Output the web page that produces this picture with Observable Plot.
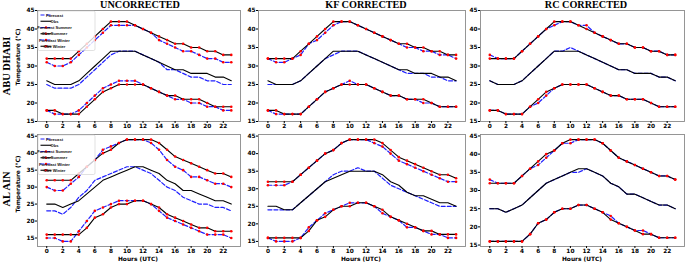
<!DOCTYPE html>
<html><head><meta charset="utf-8">
<script src="https://cdn.jsdelivr.net/npm/d3@7"></script>
<script src="https://cdn.jsdelivr.net/npm/@observablehq/plot@0.6"></script>
<style>
body{margin:0;background:#fff}
#chart{position:relative;width:685px;height:265px;overflow:hidden;background:#fff}
#chart svg{position:absolute}
</style>
</head><body><div id="chart"></div>
<script>
// ---------- data ----------
const hours = [0,1,2,3,4,5,6,7,8,9,10,11,12,13,14,15,16,17,18,19,20,21,22,23];
const xTicks = [0,2,4,6,8,10,12,14,16,18,20,22];
const yTicks = [15,20,25,30,35,40,45];
const columnTitles = ["UNCORRECTED","KF CORRECTED","RC CORRECTED"];
const stations = ["ABU DHABI","AL AIN"];
const seriesNames = ["Forecast","Obs","Forecast Summer","Obs Summer","Forecast Winter","Obs Winter"];

// ABU DHABI observations
const adObs       = [26,25,25,25,26,28,30,32,34,34,34,34,33,32,31,30,29,29,28,28,28,27,27,26];
const adObsSummer = [32,32,32,32,34,36,38,40,42,42,42,41,40,39,38,37,36,36,35,35,34,34,33,33];
const adObsWinter = [18,18,17,17,17,19,21,23,24,25,25,25,25,24,23,22,22,21,21,21,20,19,19,19];
// ABU DHABI forecasts
const adFcUnc       = [25,24,24,24,25,27,29,31,33,34,34,34,33,32,31,29,29,28,27,27,26,26,25,25];
const adFcSummerUnc = [31,30,30,31,33,35,37,39,41,41,41,41,40,39,37,36,35,34,34,33,32,32,31,31];
const adFcWinterUnc = [18,17,17,17,18,20,22,24,25,26,26,26,25,24,23,22,21,21,20,20,19,19,18,18];
const adFcKF        = [25,25,25,25,26,28,30,32,33,34,34,34,33,32,31,30,29,28,28,28,27,27,26,26];
const adFcSummerKF  = [32,31,31,32,33,36,37,39,41,42,42,41,40,39,38,37,36,35,35,34,34,33,33,32];
const adFcWinterKF  = [18,17,17,17,17,19,21,23,24,25,26,25,25,24,23,22,22,21,21,20,20,19,19,19];
const adFcRC        = [26,25,25,25,26,28,30,32,34,34,35,34,33,32,31,30,29,29,28,28,28,27,27,26];
const adFcSummerRC  = [33,32,32,32,34,36,38,40,41,42,42,41,41,39,38,37,36,36,35,35,34,34,33,33];
const adFcWinterRC  = [18,18,17,17,17,19,20,22,24,25,25,25,25,24,23,22,22,21,21,21,20,19,19,19];

// AL AIN observations
const aaObs       = [25,25,24,25,26,28,30,32,33,34,35,36,36,35,34,32,31,29,29,28,27,26,26,25];
const aaObsKF     = [25,25,24,24,26,28,30,32,33,34,35,35,35,35,34,32,31,29,28,28,27,26,26,25];
const aaObsSummer = [32,32,32,32,34,36,38,40,41,43,44,44,44,44,43,41,39,38,37,36,35,34,34,33];
const aaObsWinter = [16,16,16,16,16,18,21,22,24,25,25,26,26,25,24,22,21,20,19,18,18,17,17,17];
// AL AIN forecasts
const aaFcUnc       = [23,23,22,24,27,29,32,33,34,35,36,36,35,34,32,30,29,27,26,25,25,24,24,23];
const aaFcSummerUnc = [30,29,29,31,33,36,38,41,42,43,44,44,44,43,41,38,36,35,33,33,32,31,31,30];
const aaFcWinterUnc = [15,15,14,14,17,20,23,24,25,26,26,26,26,25,23,21,20,19,18,17,16,16,16,15];
const aaFcKF        = [24,24,24,24,26,28,30,32,34,35,35,36,35,35,33,31,30,29,28,27,26,25,25,25];
const aaFcSummerKF  = [31,31,31,32,34,36,38,40,41,43,44,44,44,43,42,40,38,37,36,35,34,33,32,32];
const aaFcWinterKF  = [16,15,15,15,16,19,21,23,24,25,26,26,26,25,23,22,21,19,19,18,17,17,16,16];
const aaFcRC        = [25,25,24,25,26,28,30,32,33,34,35,35,36,35,34,32,31,29,29,28,27,26,26,25];
const aaFcSummerRC  = [33,32,32,32,34,36,37,39,41,43,43,44,44,44,43,41,39,38,37,36,35,34,34,33];
const aaFcWinterRC  = [16,16,16,16,16,18,21,22,24,25,25,26,26,25,24,23,21,20,19,19,18,17,17,17];

// panel definitions (series order = seriesNames)
const panels = [
  {row:0, col:0, yDomain:[15,45], series:[adFcUnc, adObs, adFcSummerUnc, adObsSummer, adFcWinterUnc, adObsWinter]},
  {row:0, col:1, yDomain:[15,45], series:[adFcKF,  adObs, adFcSummerKF,  adObsSummer, adFcWinterKF,  adObsWinter]},
  {row:0, col:2, yDomain:[15,45], series:[adFcRC,  adObs, adFcSummerRC,  adObsSummer, adFcWinterRC,  adObsWinter]},
  {row:1, col:0, yDomain:[12.5,45.5], series:[aaFcUnc, aaObs,   aaFcSummerUnc, aaObsSummer, aaFcWinterUnc, aaObsWinter]},
  {row:1, col:1, yDomain:[13.55,45.45], series:[aaFcKF, aaObsKF, aaFcSummerKF, aaObsSummer, aaFcWinterKF, aaObsWinter]},
  {row:1, col:2, yDomain:[14.6,45.4], series:[aaFcRC, aaObs,   aaFcSummerRC,  aaObsSummer, aaFcWinterRC,  aaObsWinter]}
];

// ---------- layout ----------
const colLeft = [37, 258, 480], colRight = [240, 465, 684];
const rowTop = [10, 134], rowBottom = [121, 246];
const ML = 30, MR = 3, MT = 10, MB = 16;
const BLUE = "#1f1fff";

function legendMark() {
  return (index, scales, values, dims) => {
    const g = d3.create("svg:g");
    const x0 = dims.marginLeft + 1, y0 = dims.marginTop + 1;
    g.append("rect").attr("x", x0).attr("y", y0).attr("width", 57).attr("height", 39.5)
      .attr("rx", 1.5).attr("fill", "white").attr("fill-opacity", 0.8)
      .attr("stroke", "#cccccc").attr("stroke-width", 0.6);
    seriesNames.forEach((name, i) => {
      const y = y0 + 4 + i * 6.25;
      const fc = i % 2 === 0;
      g.append("line").attr("x1", x0 + 2.5).attr("x2", x0 + 13.5).attr("y1", y).attr("y2", y)
        .attr("stroke", fc ? BLUE : "black").attr("stroke-width", 1.1)
        .attr("stroke-dasharray", fc ? "4,2" : null);
      if (i >= 2) g.append("circle").attr("cx", x0 + 8).attr("cy", y).attr("r", 1.2).attr("fill", "red");
      g.append("text").attr("x", x0 + 16.5).attr("y", y + 1.5)
        .attr("font-family", "Liberation Sans, Arial, sans-serif").attr("font-weight", "bold")
        .attr("font-size", 4.1).attr("fill", "#111").text(name);
    });
    return g.node();
  };
}

const chart = document.getElementById("chart");

panels.forEach(p => {
  const L = colLeft[p.col], R = colRight[p.col], T = rowTop[p.row], B = rowBottom[p.row];
  const marks = [
    Plot.frame({stroke: "#8a8a8a", strokeWidth: 0.9}),
    Plot.axisY({ticks: yTicks, tickSize: 2, tickPadding: 1, label: null, fontSize: 5.8, fontWeight: "bold"}),
    Plot.axisX({ticks: xTicks, tickSize: 2, tickPadding: 0.5, label: null, fontSize: 5.8, fontWeight: "bold"})
  ];
  p.series.forEach((vals, s) => {
    const recs = hours.map((h, i) => ({hour: h, temp: vals[i], name: seriesNames[s]}));
    const fc = s % 2 === 0;
    marks.push(Plot.line(recs, {x: "hour", y: "temp", stroke: fc ? BLUE : "black",
      strokeWidth: fc ? 1.2 : 1.1, strokeDasharray: fc ? "4,2" : null}));
    if (s >= 2) marks.push(Plot.dot(recs, {x: "hour", y: "temp", r: 1.3, fill: "red"}));
  });
  if (p.col === 0) marks.push(legendMark());
  const svg = Plot.plot({
    width: R - L + ML + MR,
    height: B - T + MT + MB,
    marginLeft: ML, marginRight: MR, marginTop: MT, marginBottom: MB,
    x: {domain: [-1.15, 24.15]},
    y: {domain: p.yDomain},
    style: {background: "transparent", overflow: "visible", fontFamily: "DejaVu Sans, sans-serif",
            fontWeight: "bold", fontSize: "5.8px", color: "black"},
    marks
  });
  svg.style.left = (L - ML) + "px";
  svg.style.top = (T - MT) + "px";
  chart.appendChild(svg);
});

// ---------- titles & axis labels ----------
const ov = d3.create("svg").attr("width", 685).attr("height", 265)
  .style("left", "0px").style("top", "0px").style("pointer-events", "none").style("overflow", "visible");
const titleX = [140, 366, 586];
columnTitles.forEach((t, i) => ov.append("text").attr("x", titleX[i]).attr("y", 7.8)
  .attr("text-anchor", "middle").attr("font-family", "Liberation Serif, serif").attr("font-weight", "bold")
  .attr("font-size", 10.2).text(t));
const rowCenter = [66, 189];
stations.forEach((t, i) => ov.append("text").attr("transform", `translate(9.8,${rowCenter[i]}) rotate(-90)`)
  .attr("text-anchor", "middle").attr("font-family", "Liberation Serif, serif").attr("font-weight", "bold")
  .attr("font-size", 10.4).text(t));
const ylabCenter = [57, 184];
ylabCenter.forEach(c => ov.append("text").attr("transform", `translate(20.2,${c}) rotate(-90)`)
  .attr("text-anchor", "middle").attr("font-family", "DejaVu Sans, sans-serif").attr("font-weight", "bold")
  .attr("font-size", 5.9).text("Temperature (°C)"));
const xlabX = [138, 361, 582];
xlabX.forEach(x => ov.append("text").attr("x", x).attr("y", 261.2)
  .attr("text-anchor", "middle").attr("font-family", "DejaVu Sans, sans-serif").attr("font-weight", "bold")
  .attr("font-size", 5.9).text("Hours (UTC)"));
chart.appendChild(ov.node());
</script></body></html>
